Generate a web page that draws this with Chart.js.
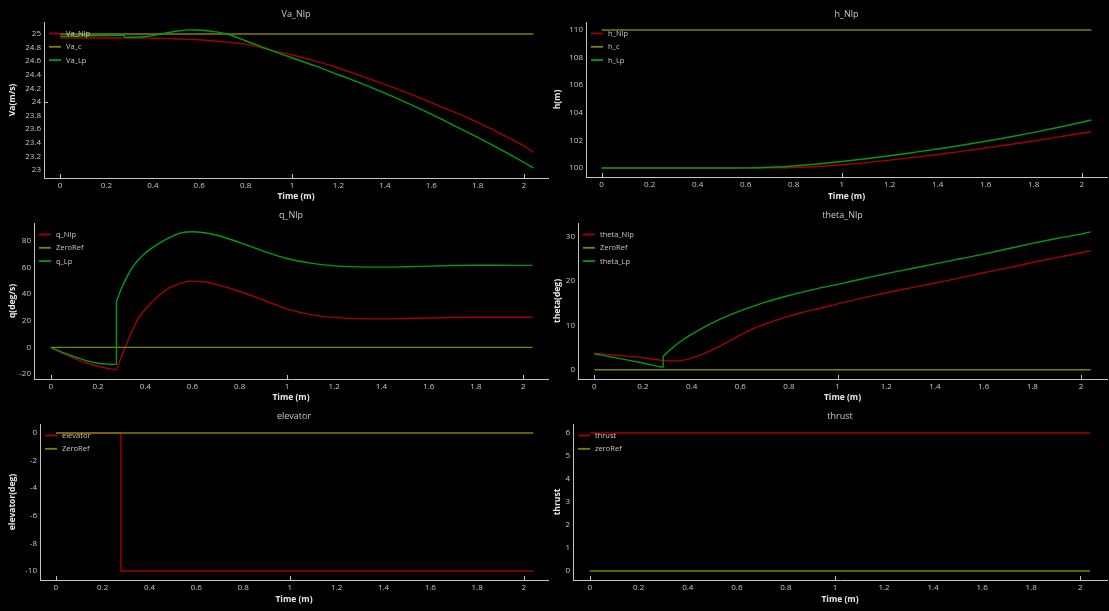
<!DOCTYPE html>
<html>
<head>
<meta charset="utf-8">
<script src="https://cdn.jsdelivr.net/npm/chart.js@4.4.1/dist/chart.umd.min.js"></script>
<style>
  html, body { margin: 0; padding: 0; background: #000; width: 1109px; height: 611px; overflow: hidden; }
  canvas { position: absolute; }
</style>
</head>
<body>
<canvas id="cVa" width="554" height="201" style="left:0;top:0"></canvas>
<canvas id="cH" width="564" height="201" style="left:545px;top:0"></canvas>
<canvas id="cQ" width="554" height="201" style="left:0;top:201px"></canvas>
<canvas id="cTheta" width="564" height="201" style="left:545px;top:201px"></canvas>
<canvas id="cElev" width="554" height="209" style="left:0;top:402px"></canvas>
<canvas id="cThrust" width="564" height="209" style="left:545px;top:402px"></canvas>
<script>
// ---- tick labels ----
const timeTicks = [0, 0.2, 0.4, 0.6, 0.8, 1, 1.2, 1.4, 1.6, 1.8, 2];
const vaTicks = [23, 23.2, 23.4, 23.6, 23.8, 24, 24.2, 24.4, 24.6, 24.8, 25];
const hTicks = [100, 102, 104, 106, 108, 110];
const qTicks = [-20, 0, 20, 40, 60, 80];
const thetaTicks = [0, 10, 20, 30];
const elevTicks = [-10, -8, -6, -4, -2, 0];
const thrustTicks = [0, 1, 2, 3, 4, 5, 6];

// elevator step instant (s); the linear model states jump here
const stepTime = 0.278;

// ---- airspeed ----
const vaNlpTime = [0, 0.1, 0.2, 0.28, 0.35, 0.4, 0.45, 0.5, 0.56, 0.6, 0.65, 0.72, 0.8, 0.9, 1.0, 1.1, 1.2, 1.3, 1.4, 1.5, 1.6, 1.7, 1.8, 1.9, 2.0, 2.04];
const vaNlp = [24.94, 24.94, 24.94, 24.94, 24.94, 24.937, 24.935, 24.93, 24.92, 24.915, 24.90, 24.88, 24.85, 24.77, 24.69, 24.60, 24.50, 24.38, 24.26, 24.13, 23.99, 23.85, 23.70, 23.53, 23.35, 23.26];
const vaLpTime = [0, 0.1, 0.2, 0.278, 0.278, 0.35, 0.4, 0.45, 0.5, 0.56, 0.6, 0.65, 0.72, 0.8, 0.9, 1.0, 1.1, 1.2, 1.3, 1.4, 1.5, 1.6, 1.7, 1.8, 1.9, 2.0, 2.04];
const vaLp = [24.965, 24.97, 24.978, 24.985, 24.95, 24.955, 24.975, 25.01, 25.04, 25.06, 25.058, 25.04, 25.0, 24.90, 24.77, 24.65, 24.53, 24.40, 24.27, 24.13, 23.98, 23.82, 23.65, 23.48, 23.30, 23.11, 23.03];
const vaCmdTime = [0, 2.04];
const vaCmd = [25, 25];

// ---- altitude ----
const hTime = [0, 0.2, 0.4, 0.5, 0.6, 0.7, 0.8, 0.9, 1.0, 1.1, 1.2, 1.3, 1.4, 1.5, 1.6, 1.7, 1.8, 1.9, 2.0, 2.04];
const hNlp = [100, 100, 100, 100, 100, 100.01, 100.04, 100.11, 100.24, 100.39, 100.57, 100.77, 100.98, 101.21, 101.45, 101.70, 101.96, 102.24, 102.52, 102.63];
const hLp = [100, 100, 100, 100, 100.01, 100.06, 100.15, 100.29, 100.47, 100.67, 100.89, 101.13, 101.38, 101.65, 101.94, 102.25, 102.58, 102.94, 103.32, 103.48];
const hCmdTime = [0, 2.04];
const hCmd = [110, 110];

// ---- pitch rate ----
const qNlpTime = [0, 0.05, 0.1, 0.15, 0.2, 0.25, 0.278, 0.3, 0.325, 0.35, 0.375, 0.4, 0.45, 0.5, 0.55, 0.6, 0.65, 0.7, 0.8, 0.9, 1.0, 1.1, 1.2, 1.3, 1.4, 1.5, 1.6, 1.7, 1.8, 1.9, 2.0, 2.04];
const qNlp = [0, -4.6, -8.2, -11.6, -14.2, -16, -16.8, -6.5, 4.4, 14.5, 23.0, 28.5, 37.8, 44.5, 48.3, 49.8, 49.3, 47.3, 42.0, 35.6, 28.9, 24.6, 22.5, 21.6, 21.4, 21.7, 22.1, 22.4, 22.6, 22.6, 22.6, 22.6];
const qLpTime = [0, 0.05, 0.1, 0.15, 0.2, 0.25, 0.278, 0.278, 0.3, 0.325, 0.35, 0.375, 0.4, 0.45, 0.5, 0.55, 0.6, 0.65, 0.7, 0.8, 0.9, 1.0, 1.1, 1.2, 1.3, 1.4, 1.5, 1.6, 1.7, 1.8, 1.9, 2.0, 2.04];
const qLp = [0, -3.8, -7, -10, -12, -12.7, -12.8, 34.4, 44.6, 53.8, 61.2, 66.6, 71, 77.2, 82.3, 86.0, 86.9, 86.2, 84.5, 78.8, 72.4, 66.8, 63.3, 61.3, 60.5, 60.3, 60.6, 61.1, 61.5, 61.7, 61.7, 61.6, 61.6];
const zeroTime = [0, 2.04];
const zeroRef = [0, 0];

// ---- pitch angle ----
const thetaNlpTime = [0, 0.1, 0.2, 0.278, 0.32, 0.36, 0.4, 0.45, 0.5, 0.57, 0.64, 0.71, 0.78, 0.85, 0.92, 1.0, 1.1, 1.2, 1.3, 1.4, 1.5, 1.6, 1.7, 1.8, 1.9, 2.0, 2.04];
const thetaNlp = [3.7, 3.2, 2.7, 2.1, 1.95, 2.1, 2.6, 3.6, 4.9, 6.9, 8.9, 10.4, 11.7, 12.8, 13.7, 14.8, 16.1, 17.3, 18.4, 19.5, 20.6, 21.8, 22.9, 24.1, 25.2, 26.3, 26.7];
const thetaLpTime = [0, 0.1, 0.2, 0.283, 0.283, 0.32, 0.366, 0.43, 0.5, 0.57, 0.64, 0.71, 0.78, 0.85, 0.92, 1.0, 1.1, 1.2, 1.3, 1.4, 1.5, 1.6, 1.7, 1.8, 1.9, 2.0, 2.04];
const thetaLp = [3.6, 2.55, 1.5, 0.6, 3.0, 4.9, 6.8, 8.9, 10.9, 12.6, 14.0, 15.3, 16.4, 17.4, 18.3, 19.2, 20.4, 21.6, 22.7, 23.8, 24.9, 26.0, 27.2, 28.4, 29.5, 30.5, 31.0];

// ---- inputs ----
const elevTime = [0, 0.278, 0.278, 2.04];
const elevator = [0, 0, -10, -10];
const thrustTime = [0, 2.04];
const thrust = [6, 6];

// ---- styling ----
const FONT = "'Open Sans', 'DejaVu Sans', sans-serif";
const TEXT = '#c8c8c8';
const AXIS = '#c4c4c4';
const RED = 'rgb(165,0,0)';
const OLIVE = 'rgb(128,128,0)';
const GREEN = 'rgb(0,155,20)';

function pts(t, v) { return t.map((x, i) => ({ x: x, y: v[i] })); }

function lineDs(label, data, color, order, smooth, inLegend) {
  return {
    label: label, data: data, borderColor: color, backgroundColor: color,
    borderWidth: 1.4, pointRadius: 0, fill: false, order: order,
    cubicInterpolationMode: smooth ? 'monotone' : 'default', tension: 0,
    inLegend: inLegend
  };
}

// A series that has a corner or a jump at breakAt is drawn as two smooth
// pieces that meet there, so the spline does not round off the discontinuity.
function series(label, t, v, color, order, smooth, breakAt) {
  const all = pts(t, v);
  if (breakAt === undefined) return [lineDs(label, all, color, order, smooth, true)];
  let j = 0;
  t.forEach((x, i) => { if (x <= breakAt + 1e-9) j = i; });
  return [
    lineDs(label, all.slice(0, j + 1), color, order, smooth, true),
    lineDs(label, all.slice(j), color, order, smooth, false)
  ];
}

// inward tick marks on the axes and a compact legend inside the plot area
const panelDecor = {
  id: 'panelDecor',
  afterDraw(chart, args, opts) {
    const ctx = chart.ctx;
    const area = chart.chartArea;
    const xs = chart.scales.x;
    const ys = chart.scales.y;
    ctx.save();
    ctx.strokeStyle = AXIS;
    ctx.lineWidth = 1;
    (opts.majorX || []).forEach(v => {
      const px = Math.round(xs.getPixelForValue(v)) + 0.5;
      ctx.beginPath(); ctx.moveTo(px, area.bottom); ctx.lineTo(px, area.bottom - 4); ctx.stroke();
    });
    (opts.majorY || []).forEach(v => {
      const py = Math.round(ys.getPixelForValue(v)) + 0.5;
      ctx.beginPath(); ctx.moveTo(area.left, py); ctx.lineTo(area.left + 4, py); ctx.stroke();
    });
    ctx.font = '7.5px ' + FONT;
    ctx.textBaseline = 'middle';
    ctx.textAlign = 'left';
    chart.data.datasets.filter(ds => ds.inLegend).forEach((ds, i) => {
      const y = area.top + 11.5 + i * 13.3;
      ctx.strokeStyle = ds.borderColor;
      ctx.lineWidth = 1.8;
      ctx.beginPath(); ctx.moveTo(area.left + 5, y); ctx.lineTo(area.left + 17, y); ctx.stroke();
      ctx.fillStyle = TEXT;
      ctx.fillText(ds.label, area.left + 22, y + 0.5);
    });
    ctx.restore();
  }
};

function makePanel(id, p) {
  const ticksFrom = arr => scale => { scale.ticks = arr.map(v => ({ value: v })); };
  return new Chart(document.getElementById(id), {
    type: 'line',
    data: { datasets: [].concat(...p.series) },
    plugins: [panelDecor],
    options: {
      responsive: false, animation: false, events: [],
      layout: { padding: { left: 0, top: 0, right: p.padRight, bottom: 0 } },
      plugins: {
        legend: { display: false },
        tooltip: { enabled: false },
        title: {
          display: true, text: p.title, color: TEXT, fullSize: false,
          font: { family: FONT, size: 9, weight: 'normal', lineHeight: 1.2 },
          padding: { top: 9, bottom: 2.2 }
        },
        panelDecor: { majorX: [0, 1, 2], majorY: p.majorY || [] }
      },
      scales: {
        x: {
          type: 'linear', min: p.xMin, max: p.xMax,
          afterBuildTicks: ticksFrom(timeTicks),
          afterFit: s => { s.height = p.xAxisH; },
          grid: { display: false, drawTicks: false },
          border: { display: true, color: AXIS, width: 1 },
          ticks: { color: TEXT, font: { family: FONT, size: 8 }, padding: 2.5, autoSkip: false, maxRotation: 0,
                   callback: v => String(v) },
          title: { display: true, text: 'Time (m)', color: '#e8e8e8',
                   font: { family: FONT, size: 8.5, weight: 'bold', lineHeight: 1 },
                   padding: { top: 0, bottom: p.xTitlePad } }
        },
        y: {
          type: 'linear', min: p.yMin, max: p.yMax,
          afterBuildTicks: ticksFrom(p.yTicks),
          afterFit: s => { s.width = p.yAxisW; },
          grid: { display: false, drawTicks: false },
          border: { display: true, color: AXIS, width: 1 },
          ticks: { color: TEXT, font: { family: FONT, size: 8 }, padding: 3, autoSkip: false,
                   callback: v => String(v) },
          title: { display: true, text: p.yLabel, color: '#e8e8e8',
                   font: { family: FONT, size: 8.5, weight: 'bold', lineHeight: 1 },
                   padding: { top: 8.5, bottom: 0 } }
        }
      }
    }
  });
}

makePanel('cVa', {
  title: 'Va_Nlp', yLabel: 'Va(m/s)', yTicks: vaTicks, majorY: [24],
  xMin: -0.069, xMax: 2.103, yMin: 22.882, yMax: 25.176,
  yAxisW: 44, padRight: 6, xAxisH: 23, xTitlePad: 0.5,
  series: [
    series('Va_Nlp', vaNlpTime, vaNlp, RED, 3, true),
    series('Va_c', vaCmdTime, vaCmd, OLIVE, 2, false),
    series('Va_Lp', vaLpTime, vaLp, GREEN, 1, true, stepTime)
  ]
});

makePanel('cH', {
  title: 'h_Nlp', yLabel: 'h(m)', yTicks: hTicks,
  xMin: -0.065, xMax: 2.105, yMin: 99.35, yMax: 110.58,
  yAxisW: 41, padRight: 2, xAxisH: 24, xTitlePad: 0.5,
  series: [
    series('h_Nlp', hTime, hNlp, RED, 3, true),
    series('h_c', hCmdTime, hCmd, OLIVE, 2, false),
    series('h_Lp', hTime, hLp, GREEN, 1, true)
  ]
});

makePanel('cQ', {
  title: 'q_Nlp', yLabel: 'q(deg/s)', yTicks: qTicks,
  xMin: -0.071, xMax: 2.105, yMin: -23.8, yMax: 93.5,
  yAxisW: 34, padRight: 6, xAxisH: 23, xTitlePad: 0.5,
  series: [
    series('q_Nlp', qNlpTime, qNlp, RED, 3, true, stepTime),
    series('ZeroRef', zeroTime, zeroRef, OLIVE, 2, false),
    series('q_Lp', qLpTime, qLp, GREEN, 1, true, stepTime)
  ]
});

makePanel('cTheta', {
  title: 'theta_Nlp', yLabel: 'theta(deg)', yTicks: thetaTicks,
  xMin: -0.067, xMax: 2.107, yMin: -2.09, yMax: 32.99,
  yAxisW: 33, padRight: 2, xAxisH: 23, xTitlePad: 0.5,
  series: [
    series('theta_Nlp', thetaNlpTime, thetaNlp, RED, 3, true, stepTime),
    series('ZeroRef', zeroTime, zeroRef, OLIVE, 2, false),
    series('theta_Lp', thetaLpTime, thetaLp, GREEN, 1, true, 0.283)
  ]
});

makePanel('cElev', {
  title: 'elevator', yLabel: 'elevator(deg)', yTicks: elevTicks,
  xMin: -0.068, xMax: 2.103, yMin: -10.652, yMax: 0.652,
  yAxisW: 40, padRight: 6, xAxisH: 31, xTitlePad: 7.5,
  series: [
    series('elevator', elevTime, elevator, RED, 3, false),
    series('ZeroRef', zeroTime, zeroRef, OLIVE, 2, false)
  ]
});

makePanel('cThrust', {
  title: 'thrust', yLabel: 'thrust', yTicks: thrustTicks,
  xMin: -0.068, xMax: 2.109, yMin: -0.39, yMax: 6.39,
  yAxisW: 28, padRight: 2, xAxisH: 31, xTitlePad: 7.5,
  series: [
    series('thrust', thrustTime, thrust, RED, 3, false),
    series('zeroRef', zeroTime, zeroRef, OLIVE, 2, false)
  ]
});
</script>
</body>
</html>
